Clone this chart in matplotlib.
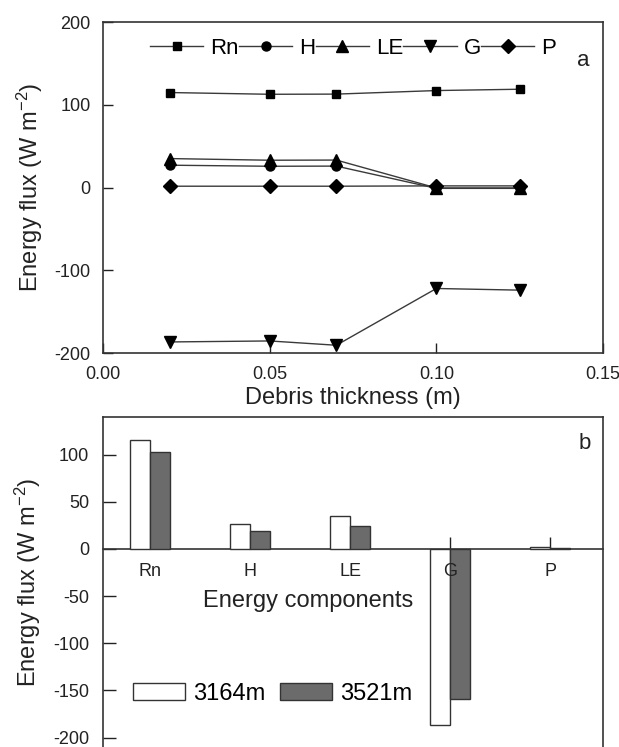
"""
Energy fluxes vs debris thickness (a) and energy components at two sites (b)
"""

import matplotlib
matplotlib.use("Agg")
import matplotlib.pyplot as plt
import numpy as np


plt.rcParams["font.family"] = ["Liberation Sans", "DejaVu Sans"]
plt.rcParams["mathtext.fontset"] = "custom"
plt.rcParams["mathtext.rm"] = "Liberation Sans"
plt.rcParams["mathtext.default"] = "regular"
plt.rcParams["axes.unicode_minus"] = False


# panel a: fluxes against debris thickness
thickness = [0.02, 0.05, 0.07, 0.10, 0.125]
rn_flux = [114.8, 112.7, 112.9, 117.2, 118.8]
h_flux = [27.0, 25.7, 25.9, -1.0, -1.0]
le_flux = [35.0, 33.0, 33.2, -0.5, -0.5]
g_flux = [-186.6, -185.4, -190.6, -122.0, -124.0]
p_flux = [1.6, 1.6, 1.6, 2.0, 2.0]

# panel b: components at two elevations
components = ["Rn", "H", "LE", "G", "P"]
site_3164 = [115.2, 26.5, 35.5, -187.0, 2.0]
site_3521 = [102.9, 19.5, 24.5, -159.0, 1.5]

TEXT = "#222222"
LINE = "#3a3a3a"


def main():

    fig = plt.figure(figsize=(6.19, 7.47), dpi=100)

    # ---- panel a ----
    ax1 = fig.add_axes([0.1664, 0.5274, 0.8078, 0.4431])

    series = [
        ("Rn", rn_flux, "s", 6),
        ("H", h_flux, "o", 6.5),
        ("LE", le_flux, "^", 8.5),
        ("G", g_flux, "v", 8.5),
        ("P", p_flux, "D", 7.5),
    ]
    for name, vals, mk, ms in series:
        ax1.plot(
            thickness, vals,
            color=LINE, linewidth=1.0,
            marker=mk, markersize=ms,
            markerfacecolor="black", markeredgecolor="black",
            label=name
        )

    ax1.set_xlim(0, 0.15)
    ax1.set_ylim(-200, 200)
    ax1.set_xticks([0.0, 0.05, 0.10, 0.15])
    ax1.set_xticklabels(["0.00", "0.05", "0.10", "0.15"])
    ax1.set_yticks([-200, -100, 0, 100, 200])
    ax1.tick_params(direction="in", length=7, width=1, colors=TEXT,
                    labelsize=13, pad=9)
    ax1.set_xlabel("Debris thickness (m)", fontsize=17, color=TEXT,
                   labelpad=3)
    ax1.set_ylabel("Energy flux (W m$^{-2}$)", fontsize=17, color=TEXT)
    ax1.yaxis.set_label_coords(-0.115, 0.5)

    ax1.legend(
        loc="center left", bbox_to_anchor=(0.094, 0.921),
        ncol=5, frameon=False, fontsize=16,
        handlelength=2.4, handletextpad=0.32, columnspacing=0.0,
        borderpad=0, borderaxespad=0, numpoints=1
    )
    ax1.text(0.96, 0.885, "a", transform=ax1.transAxes, fontsize=16,
             color=TEXT, ha="center", va="center")

    # ---- panel b ----
    ax2 = fig.add_axes([0.1664, 0.0, 0.8078, 0.4418])

    pos = np.arange(len(components))
    width = 0.2
    ax2.bar(pos - width / 2, site_3164, width, color="white",
            edgecolor="#333333", linewidth=1.0, label="3164m", zorder=3)
    ax2.bar(pos + width / 2, site_3521, width, color="#6b6b6b",
            edgecolor="#333333", linewidth=1.0, label="3521m", zorder=3)

    ax2.set_xlim(-0.47, 4.53)
    ax2.set_ylim(-210, 140)
    ax2.set_xticks(pos)
    ax2.set_xticklabels([])
    ax2.set_yticks([-200, -150, -100, -50, 0, 50, 100])
    ax2.spines["bottom"].set_position(("data", 0))
    ax2.tick_params(axis="x", direction="in", length=9, width=1,
                    colors=TEXT)
    ax2.tick_params(axis="y", direction="in", length=9, width=1,
                    colors=TEXT, labelsize=13, pad=10)
    ax2.set_ylabel("Energy flux (W m$^{-2}$)", fontsize=17, color=TEXT)
    ax2.yaxis.set_label_coords(-0.12, 0.5)

    # category labels sit on top of the bars
    for p, name in zip(pos, components):
        ax2.text(p, -24, name, fontsize=13, color=TEXT,
                 ha="center", va="center", zorder=5)

    ax2.text(1.58, -55, "Energy components", fontsize=17, color=TEXT,
             ha="center", va="center")
    ax2.text(0.964, 0.92, "b", transform=ax2.transAxes, fontsize=16,
             color=TEXT, ha="center", va="center")

    ax2.legend(
        loc="center left", bbox_to_anchor=(0.06, 0.162),
        ncol=2, frameon=False, fontsize=17,
        handlelength=2.2, handleheight=0.76, handletextpad=0.35,
        columnspacing=0.6, borderpad=0, borderaxespad=0
    )

    for ax in (ax1, ax2):
        for sp in ax.spines.values():
            sp.set_color("#333333")
            sp.set_linewidth(1.2)

    fig.savefig("out.png", dpi=100)
    plt.close(fig)


if __name__ == "__main__":
    main()
